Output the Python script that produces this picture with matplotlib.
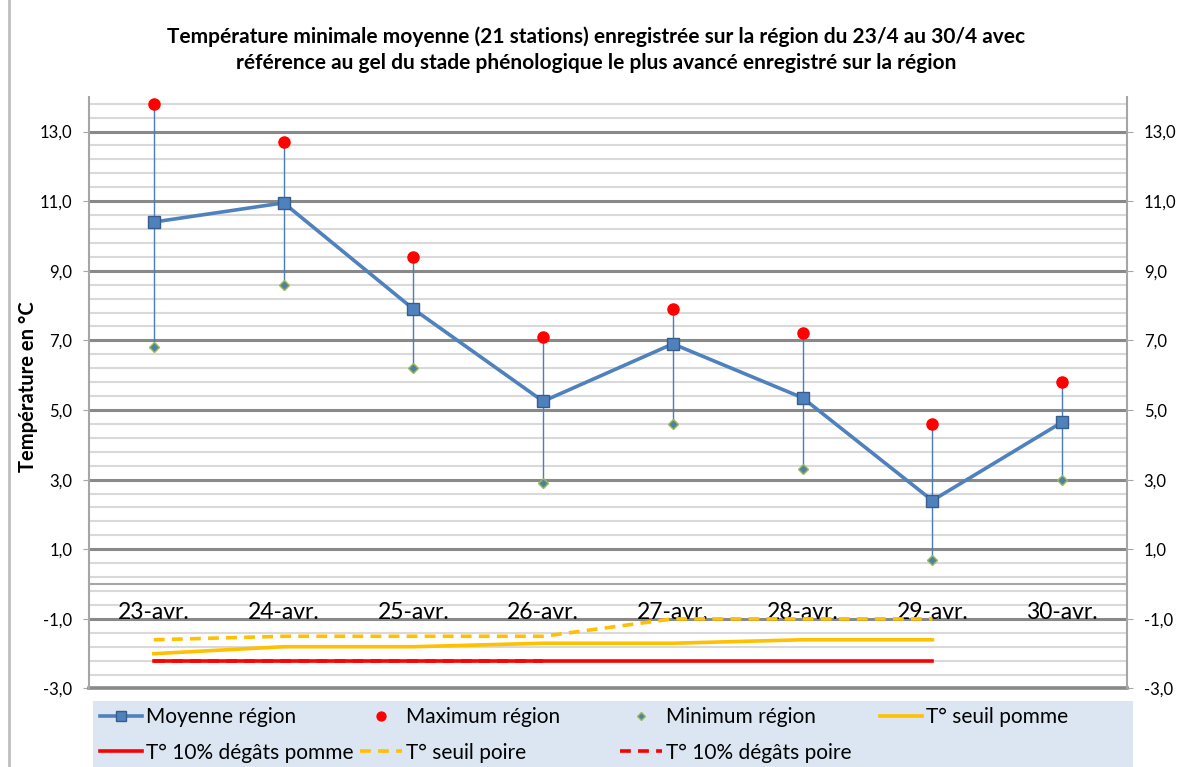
import numpy as np
import matplotlib
matplotlib.use("Agg")
import matplotlib.pyplot as plt
from matplotlib.ticker import FixedLocator, FuncFormatter
from matplotlib.patches import Rectangle
from matplotlib.lines import Line2D

plt.rcParams['font.family'] = ['Lato', 'DejaVu Sans']

jours = ['23-avr.', '24-avr.', '25-avr.', '26-avr.', '27-avr.', '28-avr.', '29-avr.', '30-avr.']
moyenne = [10.4, 10.95, 7.9, 5.25, 6.9, 5.35, 2.4, 4.65]
maximum = [13.8, 12.7, 9.4, 7.1, 7.9, 7.2, 4.6, 5.8]
minimum = [6.8, 8.6, 6.2, 2.9, 4.6, 3.3, 0.7, 3.0]

# seuils de gel (stade le plus avancé), renseignés du 23 au 29
seuil_pomme = [-2.0, -1.8, -1.8, -1.7, -1.7, -1.6, -1.6]
degats_pomme = [-2.2, -2.2, -2.2, -2.2, -2.2, -2.2, -2.2]
seuil_poire = [-1.6, -1.5, -1.5, -1.5, -1.0, -1.0, -1.0]
degats_poire = [-2.2, -2.2, -2.2, -2.2]

x = np.arange(len(jours))

fig = plt.figure(figsize=(11.77, 7.67), dpi=100)
ax = fig.add_axes([89/1177, 1 - 688.5/767, (1127 - 89)/1177, (688.5 - 96.7)/767])

ax.set_xlim(-0.5, len(jours) - 0.5)
ax.set_ylim(-3, 14)
ax.yaxis.set_major_locator(FixedLocator(np.arange(-3, 14, 2)))
ax.yaxis.set_minor_locator(FixedLocator(np.arange(-3, 14, 0.4)))
fmt = FuncFormatter(lambda v, p: f"{v:.1f}".replace('.', ','))
ax.yaxis.set_major_formatter(fmt)
ax.grid(axis='y', which='major', color='#898989', lw=2.2)
ax.grid(axis='y', which='minor', color='#d9d9d9', lw=1.5)
ax.set_axisbelow(True)
ax.axhline(-3, color='#898989', lw=2.6, clip_on=False, zorder=1)

# axe des catégories placé à 0
ax.spines['bottom'].set_position(('data', 0))
ax.spines['bottom'].set_color('#a6a6a6')
ax.spines['bottom'].set_linewidth(1.5)
ax.spines['top'].set_visible(False)
ax.spines['right'].set_visible(False)
ax.spines['left'].set_color('#a6a6a6')
ax.spines['left'].set_linewidth(1.5)
ax.set_xticks(x)
ax.set_xticklabels(jours, fontsize=16.5)
ax.tick_params(axis='x', length=0, pad=13)
ax.xaxis.set_zorder(2.5)
ax.tick_params(axis='y', which='major', length=4, color='#a6a6a6', labelsize=12, pad=8)
ax.tick_params(axis='y', which='minor', length=0)

ax2 = ax.twinx()
ax2.set_ylim(ax.get_ylim())
ax2.yaxis.set_major_locator(FixedLocator(np.arange(-3, 14, 2)))
ax2.yaxis.set_major_formatter(fmt)
ax2.tick_params(axis='y', length=4, color='#a6a6a6', labelsize=12, pad=8)
for s in ['top', 'bottom', 'left']:
    ax2.spines[s].set_visible(False)
ax2.spines['right'].set_color('#a6a6a6')
ax2.spines['right'].set_linewidth(1.5)

# lignes haut-bas entre minimum et maximum
ax.vlines(x, minimum, maximum, color='#4a7ebb', lw=1, zorder=2)

l_moy, = ax.plot(x, moyenne, color='#4f81bd', lw=2.6, marker='s', ms=9,
                 mfc='#4f81bd', mec='#385d8a', mew=1, zorder=4)
l_max, = ax.plot(x, maximum, ls='none', marker='o', ms=8, mfc='#ff0000',
                 mec='#ff0000', zorder=5)
l_min, = ax.plot(x, minimum, ls='none', marker='D', ms=5, mfc='#4f81a0',
                 mec='#9bbb59', mew=1, zorder=5)

l_sp, = ax.plot(x[:7], seuil_pomme, color='#ffc000', lw=2.6, zorder=3)
l_dp, = ax.plot(x[:7], degats_pomme, color='#ff0000', lw=2.6, zorder=3)
l_spo, = ax.plot(x[:7], seuil_poire, color='#ffc000', lw=2.6, ls=(0, (3, 2)), zorder=3)
l_dpo, = ax.plot(x[:4], degats_poire, color='#ff0000', lw=2.6, ls=(0, (3, 2)), zorder=3)

fig.text(596/1177, 1 - 37/767,
         "Température minimale moyenne (21 stations) enregistrée sur la région du 23/4 au 30/4 avec",
         ha='center', va='center', fontsize=15, fontweight='bold')
fig.text(596/1177, 1 - 63/767,
         "référence au gel du stade phénologique le plus avancé enregistré sur la région",
         ha='center', va='center', fontsize=15, fontweight='bold')
fig.text(28/1177, 1 - 387/767, "Température en °C", rotation=90,
         ha='center', va='center', fontsize=14.5, fontweight='bold')

# bordure gauche de la zone de graphique
fig.add_artist(Line2D([9/1177, 9/1177], [0, 1], color='#bfbfbf', lw=2))

# légende : fond puis une colonne par groupe d'entrées
fig.add_artist(Rectangle((93/1177, 0), (1133 - 93)/1177, 66/767,
                         facecolor='#dce6f2', edgecolor='none'))
colonnes = [
    ([l_moy, l_dp], ['Moyenne région', 'T° 10% dégâts pomme']),
    ([l_max, l_spo], ['Maximum région', 'T° seuil poire']),
    ([l_min, l_dpo], ['Minimum région', 'T° 10% dégâts poire']),
    ([l_sp], ['T° seuil pomme']),
]
for i, (h, lab) in enumerate(colonnes):
    leg = fig.legend(h, lab, loc='upper left', bbox_to_anchor=((100 + 260 * i)/1177, 1 - 707/767),
                     frameon=False, fontsize=15, handlelength=2.0, handletextpad=0.2,
                     labelspacing=0.75, borderaxespad=0, borderpad=0, markerscale=0.8)

fig.savefig('out.png', dpi=100)
